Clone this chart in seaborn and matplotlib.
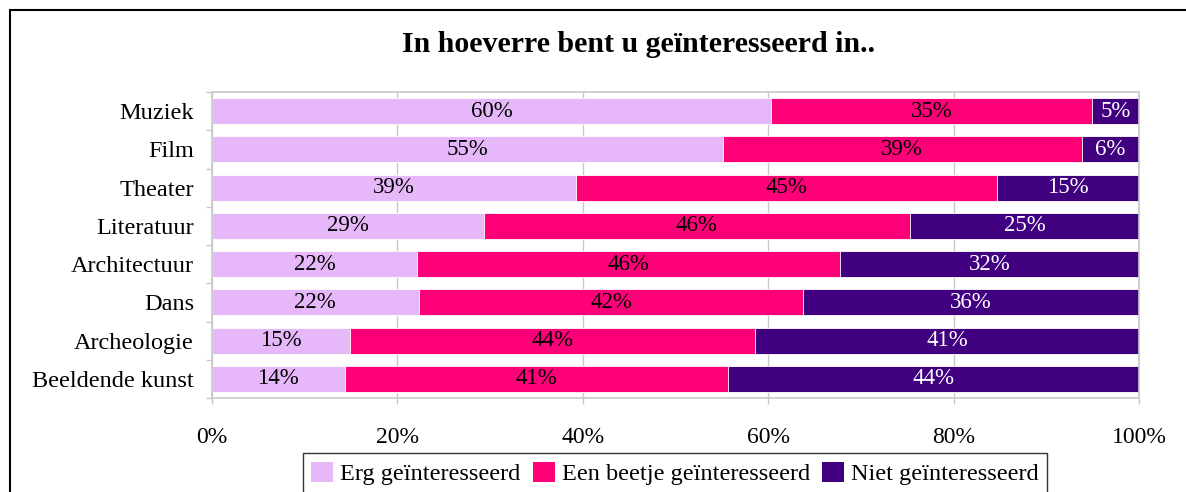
import numpy as np
import pandas as pd
import seaborn as sns
import matplotlib.pyplot as plt
from matplotlib.patches import Rectangle, Patch

# data (percentages)
categories = ['Muziek', 'Film', 'Theater', 'Literatuur', 'Architectuur', 'Dans',
              'Archeologie', 'Beeldende kunst']
erg = [60.3, 55.1, 39.3, 29.3, 22.1, 22.3, 14.9, 14.3]
beetje = [34.6, 38.7, 45.4, 46.0, 45.6, 41.5, 43.7, 41.4]
niet = [5.1, 6.2, 15.3, 24.7, 32.3, 36.2, 41.4, 44.3]
series_names = ['Erg geïnteresseerd', 'Een beetje geïnteresseerd', 'Niet geïnteresseerd']
colors = ['#E6B8FA', '#FF0078', '#400080']
label_colors = ['black', 'black', 'white']

sns.set_theme(style='white')
plt.rcParams['font.family'] = ['Liberation Serif', 'DejaVu Serif']
plt.rcParams['text.color'] = 'black'
plt.rcParams['xtick.color'] = 'black'
plt.rcParams['ytick.color'] = 'black'

df = pd.DataFrame({'cat': categories, 'erg': erg, 'beetje': beetje, 'niet': niet})
df['c1'] = df['erg']
df['c2'] = df['erg'] + df['beetje']
df['c3'] = df['c2'] + df['niet']

fig = plt.figure(figsize=(11.86, 4.92), dpi=100)
ax = fig.add_axes([212 / 1186, 1 - 398 / 492, 927 / 1186, 306 / 492])

# stacked bars: draw cumulative totals from the back to the front
for col, color in zip(['c3', 'c2', 'c1'], colors[::-1]):
    sns.barplot(data=df, x=col, y='cat', color=color, width=0.68, orient='h',
                saturation=1, edgecolor='white', linewidth=0.6, ax=ax)

# value labels in the middle of each segment
for i, row in df.iterrows():
    left = 0
    for j, col in enumerate(['erg', 'beetje', 'niet']):
        v = row[col]
        ax.text(left + v / 2, i, f'{round(v)}%', ha='center', va='center',
                fontsize=16.5, color=label_colors[j])
        left += v

ax.set_xlim(0, 100)
ax.set_ylim(len(categories) - 0.5, -0.5)
ax.set_xticks(np.arange(0, 101, 20))
ax.set_xticklabels([f'{t}%' for t in range(0, 101, 20)])
ax.set_xlabel('')
ax.set_ylabel('')
ax.grid(axis='x', color='#c8c8c8', linewidth=1)
ax.set_axisbelow(True)
for s in ax.spines.values():
    s.set_color('#c8c8c8')
    s.set_linewidth(1.2)

ax.set_yticks(np.arange(-0.5, len(categories)), minor=True)
ax.tick_params(axis='y', which='major', length=0, pad=13, labelsize=17.5, labelcolor='black')
ax.tick_params(axis='y', which='minor', left=True, length=4, color='#c8c8c8', width=1)
ax.tick_params(axis='x', which='major', bottom=True, length=4, color='#c8c8c8', width=1,
               pad=17, labelsize=17, labelcolor='black')

fig.text(639 / 1186, 1 - 45 / 492, 'In hoeverre bent u geïnteresseerd in..', ha='center',
         va='center', fontsize=21.5, fontweight='bold', color='black')

handles = [Patch(facecolor=c, edgecolor='none') for c in colors]
leg = fig.legend(handles, series_names, loc='upper center', ncol=3,
                 bbox_to_anchor=(675 / 1186, 1 - 453 / 492), borderaxespad=0,
                 fontsize=17.5, frameon=True, fancybox=False, handlelength=0.9,
                 handleheight=0.9, handletextpad=0.3, columnspacing=0.5, borderpad=0.35)
leg.get_frame().set_edgecolor('black')
leg.get_frame().set_linewidth(1)

# outer chart frame (runs off the right and bottom of the image)
fig.add_artist(Rectangle((10 / 1186, -0.5), 2, 1 - 10 / 492 + 0.5, transform=fig.transFigure,
                         fill=False, edgecolor='black', linewidth=1.5))

fig.savefig('out.png', dpi=100)
